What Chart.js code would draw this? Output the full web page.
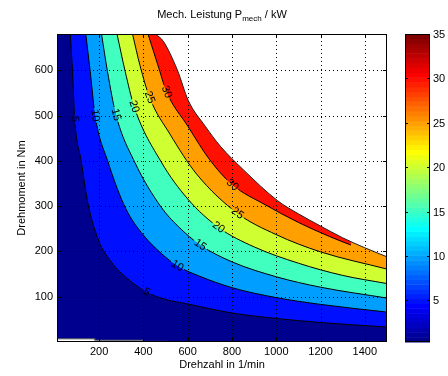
<!DOCTYPE html>
<html lang="de">
<head>
<meta charset="UTF-8">
<title>Mech. Leistung</title>
<script src="https://cdn.jsdelivr.net/npm/chart.js"></script>
<style>
    html, body { margin: 0; padding: 0; background: #fff; }
    #wrap { width: 448px; height: 376px; }
</style>
</head>
<body>
<div id="wrap"><canvas id="map" width="448" height="376"></canvas></div>
<script>
// contour lines of P_mech (kW): speed in 1/min, torque in Nm
const levels = [5, 10, 15, 20, 25, 30];

const speed5   = [70, 80, 90, 120, 150, 200, 250, 300, 415, 500, 600, 800, 1000, 1200, 1500];
const torque5  = [680, 597, 492, 398, 305, 222, 180, 152, 110, 94, 84, 64, 52, 43, 33];

const speed10  = [140, 160, 182, 240, 320, 400, 480, 553, 650, 800, 1000, 1200, 1500];
const torque10 = [680, 597, 500, 398, 295, 236, 196, 168, 146, 120, 98, 83, 66];

const speed15  = [211, 238, 276, 360, 480, 560, 657, 800, 1000, 1200, 1500];
const torque15 = [680, 597, 502, 398, 298, 254, 214, 177, 144, 121, 97];

const speed20  = [281, 318, 358, 480, 600, 739, 900, 1100, 1300, 1500];
const torque20 = [680, 597, 520, 398, 316, 253, 210, 174, 147, 129];

const speed25  = [351, 385, 428, 520, 640, 825, 1000, 1200, 1500];
const torque25 = [680, 610, 540, 459, 371, 284, 237, 199, 161];

const speed30  = [421, 465, 505, 600, 700, 802, 950, 1100, 1240, 1337];
const torque30 = [680, 612, 552, 477, 402, 347, 303, 264, 233, 214];

// operating limit (white area above it has no data)
const limitSpeed  = [455, 490, 553, 603, 680, 748, 852, 1006, 1100, 1200, 1300, 1400, 1500];
const limitTorque = [680, 664, 601, 533, 476, 432, 380, 312, 283, 256, 230, 208, 188];

// lower edge of the data (thin white strip at low speed)
const floorSpeed  = [10, 181, 181, 400, 400, 515, 515, 1500];
const floorTorque = [7, 7, 4, 4, 1.5, 1.5, 0, 0];

// axis ticks
const xTicks = [200, 400, 600, 800, 1000, 1200, 1400];
const yTicks = [100, 200, 300, 400, 500, 600];
const cbTicks = [5, 10, 15, 20, 25, 30, 35];
const cbMin = 0.3, cbMax = 35;

// which points of each contour carry the inline label
const labelIdx = [[2, 8], [2, 7], [2, 6], [2, 5], [2, 5], [2, 5]];

const FONT = '"Liberation Sans", Arial, sans-serif';

// MATLAB jet(n)
function jetMap(n) {
    const m = Math.ceil(n / 4);
    const u = [];
    for (let i = 1; i <= m; i++) u.push(i / m);
    for (let i = 1; i < m; i++) u.push(1);
    for (let i = m; i >= 1; i--) u.push(i / m);
    const g0 = Math.ceil(m / 2) - (n % 4 === 1 ? 1 : 0);
    const J = Array.from({ length: n }, () => [0, 0, 0]);
    u.forEach((v, j) => {
        const g = g0 + j + 1, r = g + m, b = g - m;
        if (g >= 1 && g <= n) J[g - 1][1] = v;
        if (r >= 1 && r <= n) J[r - 1][0] = v;
        if (b >= 1 && b <= n) J[b - 1][2] = v;
    });
    return J.map(c => `rgb(${Math.round(c[0] * 255)},${Math.round(c[1] * 255)},${Math.round(c[2] * 255)})`);
}
const jet = jetMap(64);
const colorFor = v => jet[Math.min(63, Math.floor((v - cbMin) / (cbMax - cbMin) * 64))];
const bandColors = [cbMin, ...levels].map(colorFor);

const contourSpeeds = [speed5, speed10, speed15, speed20, speed25, speed30];
const contourTorques = [torque5, torque10, torque15, torque20, torque25, torque30];
const toPts = (xs, ys) => xs.map((x, i) => ({ x: x, y: ys[i] }));

const datasets = [{
    label: 'floor',
    data: toPts(floorSpeed, floorTorque),
    fill: 'end',
    backgroundColor: bandColors[0],
    borderColor: '#555',
    borderWidth: 1,
    tension: 0,
    order: 20
}];
levels.forEach((L, k) => {
    datasets.push({
        label: 'P = ' + L,
        data: toPts(contourSpeeds[k], contourTorques[k]),
        fill: 'end',
        backgroundColor: bandColors[k + 1],
        borderColor: '#000',
        borderWidth: 1,
        cubicInterpolationMode: 'monotone',
        order: 19 - k
    });
});
datasets.push({
    label: 'limit',
    data: toPts(limitSpeed, limitTorque),
    fill: 'end',
    backgroundColor: '#fff',
    borderColor: '#222',
    borderWidth: 1,
    cubicInterpolationMode: 'monotone',
    order: 5
});

// dotted grid on top of the filled bands
const gridOnTop = {
    id: 'gridOnTop',
    afterDatasetsDraw(chart) {
        const ctx = chart.ctx;
        const a = chart.chartArea;
        const xs = chart.scales.x, ys = chart.scales.y;
        ctx.save();
        ctx.strokeStyle = '#000';
        ctx.lineWidth = 1;
        ctx.setLineDash([1, 3]);
        ctx.beginPath();
        xTicks.forEach(v => {
            const px = Math.round(xs.getPixelForValue(v)) + 0.5;
            ctx.moveTo(px, a.bottom); ctx.lineTo(px, a.top);
        });
        yTicks.forEach(v => {
            const py = Math.round(ys.getPixelForValue(v)) + 0.5;
            ctx.moveTo(a.left, py); ctx.lineTo(a.right, py);
        });
        ctx.stroke();
        ctx.restore();
    }
};

// inline contour labels, like clabel
const contourLabels = {
    id: 'contourLabels',
    afterDatasetsDraw(chart) {
        const ctx = chart.ctx;
        ctx.save();
        ctx.font = '11px ' + FONT;
        ctx.textAlign = 'center';
        ctx.textBaseline = 'middle';
        levels.forEach((L, k) => {
            const pts = chart.getDatasetMeta(k + 1).data;
            labelIdx[k].forEach(i => {
                const p = pts[i];
                let ang;
                if (p.cp1x !== undefined && p.cp2x !== undefined) {
                    ang = Math.atan2(p.cp2y - p.cp1y, p.cp2x - p.cp1x);
                } else {
                    ang = Math.atan2(pts[i + 1].y - pts[i - 1].y, pts[i + 1].x - pts[i - 1].x);
                }
                const txt = String(L);
                const w = ctx.measureText(txt).width + 3;
                ctx.save();
                ctx.translate(p.x, p.y);
                ctx.rotate(ang);
                ctx.fillStyle = bandColors[k + 1];
                ctx.fillRect(-w / 2, -2, w, 2);
                ctx.fillStyle = bandColors[k];
                ctx.fillRect(-w / 2, 0, w, 2);
                ctx.fillStyle = '#000';
                ctx.fillText(txt, 0, 0);
                ctx.restore();
            });
        });
        ctx.restore();
    }
};

// box, inward ticks, title with subscript, colorbar
const frame = {
    id: 'frame',
    afterDraw(chart) {
        const ctx = chart.ctx;
        const a = chart.chartArea;
        const xs = chart.scales.x, ys = chart.scales.y;
        ctx.save();
        ctx.strokeStyle = '#000';
        ctx.lineWidth = 1;
        ctx.strokeRect(a.left + 0.5, a.top + 0.5, a.right - a.left - 1, a.bottom - a.top - 1);
        ctx.beginPath();
        xTicks.forEach(v => {
            const px = Math.round(xs.getPixelForValue(v)) + 0.5;
            ctx.moveTo(px, a.bottom); ctx.lineTo(px, a.bottom - 4);
            ctx.moveTo(px, a.top); ctx.lineTo(px, a.top + 4);
        });
        yTicks.forEach(v => {
            const py = Math.round(ys.getPixelForValue(v)) + 0.5;
            ctx.moveTo(a.left, py); ctx.lineTo(a.left + 4, py);
            ctx.moveTo(a.right, py); ctx.lineTo(a.right - 4, py);
        });
        ctx.stroke();

        // title
        const cx = (a.left + a.right) / 2;
        const f1 = '11px ' + FONT, f2 = '8px ' + FONT;
        const parts = [['Mech. Leistung P', f1, 0], ['mech', f2, 3], [' / kW', f1, 0]];
        let total = 0;
        parts.forEach(p => { ctx.font = p[1]; p.push(ctx.measureText(p[0]).width); total += p[3]; });
        let tx = cx - total / 2;
        ctx.fillStyle = '#000';
        ctx.textBaseline = 'alphabetic';
        ctx.textAlign = 'left';
        parts.forEach(p => { ctx.font = p[1]; ctx.fillText(p[0], tx, 18 + p[2]); tx += p[3]; });

        // colorbar
        const bx = 405, bw = 25, top = a.top, bot = a.bottom;
        const h = (bot - top) / jet.length;
        jet.forEach((c, i) => {
            ctx.fillStyle = c;
            ctx.fillRect(bx, bot - (i + 1) * h, bw, h + 0.5);
        });
        ctx.strokeRect(bx + 0.5, top + 0.5, bw - 1, bot - top - 1);
        ctx.font = '11px ' + FONT;
        ctx.textBaseline = 'middle';
        ctx.fillStyle = '#000';
        ctx.beginPath();
        cbTicks.forEach(v => {
            const py = Math.round(bot - (v - cbMin) / (cbMax - cbMin) * (bot - top)) + 0.5;
            ctx.moveTo(bx, py); ctx.lineTo(bx + 3, py);
            ctx.moveTo(bx + bw, py); ctx.lineTo(bx + bw - 3, py);
            ctx.fillText(String(v), bx + bw + 3, py);
        });
        ctx.stroke();
        ctx.restore();
    }
};

Chart.defaults.font.family = FONT;
Chart.defaults.font.size = 11;
Chart.defaults.color = '#000';

new Chart(document.getElementById('map'), {
    type: 'line',
    data: { datasets: datasets },
    plugins: [gridOnTop, contourLabels, frame],
    options: {
        responsive: false,
        animation: false,
        layout: { padding: { left: 0, right: 61, top: 34, bottom: 0 } },
        elements: { point: { radius: 0, hoverRadius: 0 } },
        plugins: {
            legend: { display: false },
            tooltip: { enabled: false },
            filler: { drawTime: 'beforeDatasetsDraw' }
        },
        scales: {
            x: {
                type: 'linear',
                min: 10,
                max: 1500,
                afterBuildTicks: s => { s.ticks = xTicks.map(v => ({ value: v })); },
                afterFit: s => { s.height = 34; },
                grid: { display: false, drawTicks: false, tickLength: 0 },
                border: { display: false },
                ticks: { padding: 3, autoSkip: false, maxRotation: 0, callback: v => String(v) },
                title: { display: true, text: 'Drehzahl in 1/min', padding: { top: 0, bottom: 4 } }
            },
            y: {
                type: 'linear',
                min: 0,
                max: 680,
                afterBuildTicks: s => { s.ticks = yTicks.map(v => ({ value: v })); },
                afterFit: s => { s.width = 57; },
                grid: { display: false, drawTicks: false, tickLength: 0 },
                border: { display: false },
                ticks: { padding: 4, autoSkip: false, callback: v => String(v) },
                title: { display: true, text: 'Drehmoment in Nm', padding: { top: 15, bottom: 0 } }
            }
        }
    }
});
</script>
</body>
</html>
